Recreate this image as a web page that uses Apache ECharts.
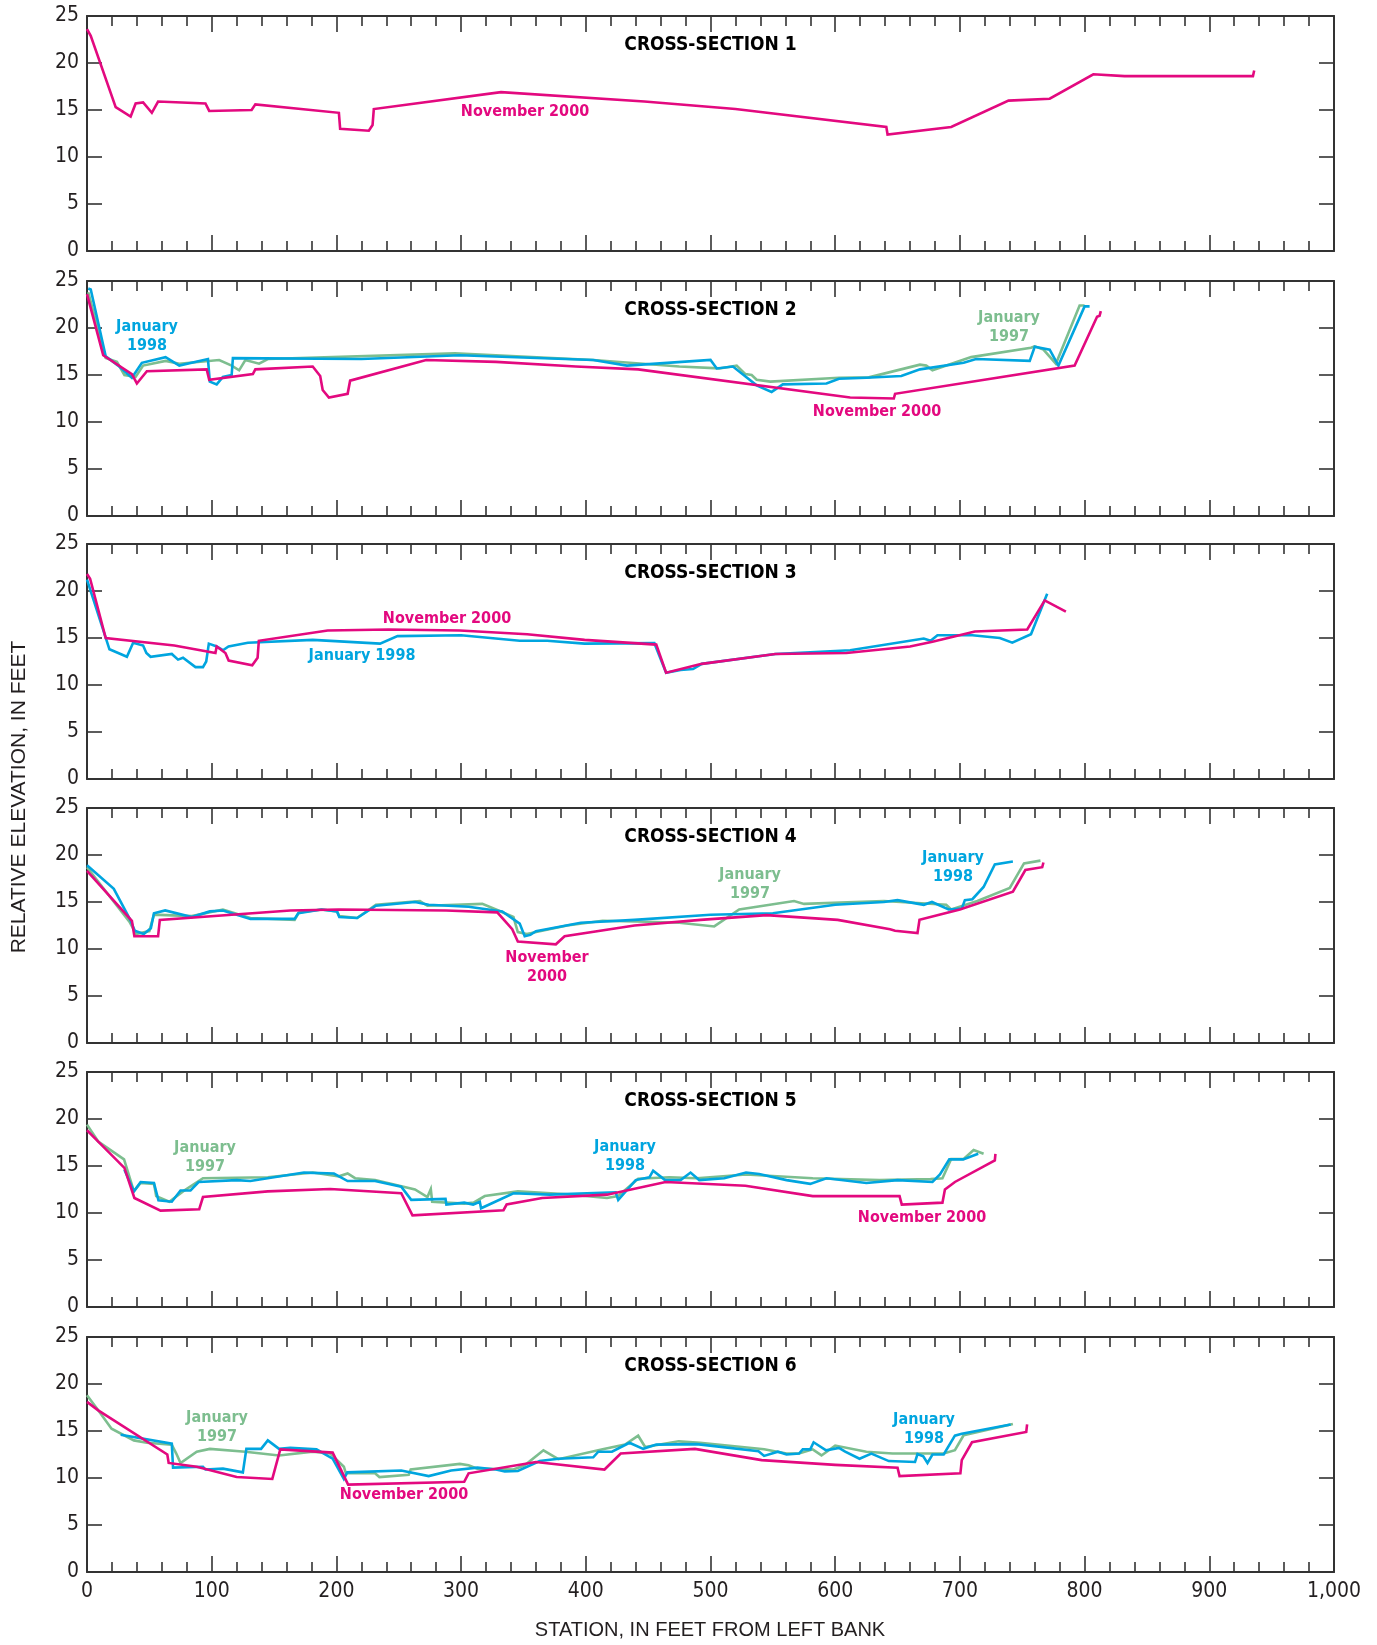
<!DOCTYPE html>
<html><head><meta charset="utf-8">
<script src="https://cdn.jsdelivr.net/npm/echarts@6/dist/echarts.min.js"></script>
<style>html,body{margin:0;padding:0;background:#fff}#c{width:1377px;height:1645px}</style>
</head><body><div id="c"></div><script>
// ---------- DATA: [station (ft from left bank), relative elevation (ft)] ----------
const xTicks = [0,100,200,300,400,500,600,700,800,900,1000];
const yTicks = [0,5,10,15,20,25];
const sectionTitles = ['CROSS-SECTION 1','CROSS-SECTION 2','CROSS-SECTION 3','CROSS-SECTION 4','CROSS-SECTION 5','CROSS-SECTION 6'];

const cs1Nov2000 = [[0,23.6],[3,22.9],[23,15.3],[35,14.3],[39,15.7],[45,15.8],[52,14.7],[57,15.9],[95,15.7],[98,14.9],[132,15.0],[135,15.6],[202,14.7],[203,13.0],[226,12.8],[229,13.4],[230,15.1],[332,16.9],[447,15.9],[520,15.1],[641,13.2],[642,12.4],[693,13.2],[739,16.0],[772,16.2],[807,18.8],[832,18.6],[935,18.6],[936,19.2]];

const cs2Nov2000 = [[0,23.6],[13,17.1],[36,15.1],[40,14.1],[48,15.4],[96,15.6],[98,14.5],[133,15.1],[135,15.6],[181,15.9],[187,14.9],[189,13.4],[194,12.6],[209,13.0],[211,14.4],[272,16.6],[328,16.4],[392,15.9],[442,15.6],[612,12.6],[647,12.5],[648,13.0],[792,16.0],[810,21.2],[812,21.3],[813,21.8]];
const cs2Jan1998 = [[1,24.2],[3,24.1],[15,17.0],[25,16.0],[36,14.7],[44,16.3],[63,16.9],[74,16.0],[97,16.7],[98.5,14.3],[104,14.0],[109,14.8],[116,15.0],[117,16.8],[220,16.7],[299,17.1],[406,16.6],[433,16.0],[500,16.6],[505,15.7],[518,15.9],[537,13.9],[549,13.2],[558,14.0],[593,14.1],[603,14.6],[625,14.7],[653,14.9],[668,15.6],[703,16.3],[713,16.7],[756,16.5],[760,18.0],[772,17.7],[779,16.0],[800,22.3],[804,22.3]];
const cs2Jan1997 = [[1,23.8],[15,16.8],[24,16.4],[30,15.0],[39,14.8],[45,16.0],[63,16.5],[74,16.2],[106,16.6],[116,16.0],[122,15.5],[127,16.6],[138,16.2],[145,16.7],[295,17.3],[406,16.6],[475,15.9],[507,15.7],[521,16.0],[528,15.1],[533,15.0],[537,14.5],[548,14.3],[603,14.7],[627,14.75],[668,16.1],[673,16.0],[678,15.5],[709,16.9],[757,17.9],[760,18.05],[767,17.7],[777,16.2],[796,22.4],[800,22.4]];

const cs3Nov2000 = [[0,21.8],[2.5,21.3],[15,15.0],[70,14.2],[103,13.4],[104,14.1],[111,13.4],[113.6,12.6],[132.5,12.1],[136.8,12.9],[137.8,14.7],[193,15.8],[242,15.9],[299,15.8],[353,15.4],[399,14.8],[456.5,14.3],[464.4,11.3],[493,12.25],[552,13.3],[609,13.4],[660,14.1],[678,14.6],[712,15.7],[754,15.9],[768,19.0],[785,17.8]];
const cs3Jan1998 = [[0,21.2],[18,13.8],[32,13.0],[37,14.5],[45,14.2],[47.6,13.4],[51,13.0],[68,13.3],[73,12.7],[77,12.9],[87,11.9],[93,11.9],[95.6,12.5],[97.7,14.4],[104,14.1],[109,13.7],[113.5,14.1],[129,14.5],[181,14.8],[235,14.4],[249,15.2],[300,15.3],[347,14.7],[369,14.7],[399,14.4],[455,14.45],[464.4,11.3],[476,11.6],[486,11.7],[493,12.25],[552,13.3],[612,13.7],[671,14.95],[676.5,14.7],[682,15.3],[710,15.3],[732,15.0],[742,14.5],[757,15.4],[770,19.7]];

const cs4Nov2000 = [[0,18.3],[36,13.0],[38,11.35],[57,11.35],[58.4,13.1],[163,14.1],[202,14.2],[288,14.1],[329,13.9],[341,12.1],[345.5,10.8],[376,10.5],[383,11.35],[439,12.5],[492,13.1],[545,13.6],[602,13.1],[644,12.1],[648,11.95],[666,11.7],[667.6,13.1],[700,14.2],[742.5,16.1],[752.5,18.4],[766,18.7],[767,19.2]];
const cs4Jan1998 = [[0,18.9],[21.5,16.4],[34.7,13.1],[38.3,11.95],[45.5,11.6],[51.2,12.2],[53.7,13.8],[62.7,14.1],[84,13.4],[98.5,14.0],[109,14.1],[131,13.2],[166.5,13.2],[169.4,13.8],[188,14.2],[200.5,14.0],[202.3,13.4],[216.6,13.3],[231.7,14.6],[263,15.0],[274,14.7],[306,14.5],[333,14.0],[347,12.7],[351,11.35],[355.5,11.5],[360,11.9],[396,12.8],[439,13.1],[500,13.65],[550,13.8],[600,14.7],[639,15.0],[650,15.2],[671,14.7],[677.6,15.0],[691,14.2],[701.5,14.3],[704,15.2],[710,15.3],[719,16.6],[728,19.0],[742.5,19.3]];
const cs4Jan1997 = [[0,18.7],[34,12.9],[39.4,11.6],[50,11.9],[53.7,13.65],[84,13.5],[109,14.2],[131,13.3],[166.5,13.1],[170,13.9],[188,14.2],[200.5,14.0],[202.3,13.5],[216.6,13.3],[231.7,14.7],[267,15.1],[273,14.6],[317,14.8],[328,14.2],[342,13.4],[345.5,11.8],[352.7,11.6],[385,12.5],[413.5,13.0],[449,12.9],[475,12.8],[503,12.4],[523,14.2],[567,15.1],[575,14.8],[639,15.1],[689,14.7],[693,14.2],[714,15.1],[740,16.5],[751.4,19.1],[764.6,19.4]];

const cs5Nov2000 = [[0,18.8],[9,17.6],[30,14.8],[38,11.6],[59,10.25],[90,10.4],[93,11.7],[145,12.3],[195,12.55],[252,12.1],[261,9.75],[334,10.3],[336.5,10.9],[365,11.6],[417,11.95],[464,13.3],[528,12.9],[582,11.8],[651.6,11.8],[653.4,10.9],[686,11.1],[688,12.5],[696,13.3],[728,15.6],[728.5,16.3]];
const cs5Jan1998 = [[30,14.6],[37.6,12.3],[43,13.3],[53.7,13.2],[57.3,11.35],[68,11.2],[75,12.4],[83,12.4],[89.5,13.3],[120,13.5],[131,13.4],[174,14.3],[198,14.2],[209,13.4],[231,13.4],[252,12.8],[260,11.4],[287.5,11.5],[288.2,10.9],[302.5,11.1],[309.7,10.9],[315,11.2],[316,10.5],[342,12.1],[371,11.95],[424,12.2],[426,11.4],[440,13.5],[451,13.8],[454,14.5],[463.6,13.5],[476,13.5],[484,14.3],[491,13.5],[511,13.7],[528.5,14.3],[539,14.15],[561,13.5],[580,13.1],[593,13.7],[625,13.2],[650,13.5],[678,13.3],[684,14.1],[691.5,15.7],[702.6,15.7],[714.7,16.3]];
const cs5Jan1997 = [[0,19.4],[9,17.6],[29.7,15.7],[37.6,12.3],[43,13.2],[53.7,13.1],[55.5,11.8],[66,11.2],[77,12.3],[93,13.7],[145,13.8],[181,14.3],[202,13.9],[209,14.2],[215,13.7],[231,13.5],[263,12.5],[273,11.7],[275.7,12.55],[276.8,11.2],[302.5,11.0],[310,11.1],[319,11.8],[345.5,12.3],[388.5,11.95],[417,11.6],[426,11.8],[442,13.65],[467,13.8],[489,13.7],[528.5,14.1],[582,13.7],[635.5,13.5],[676.5,13.6],[686,13.7],[693,15.75],[703,15.75],[711,16.7],[719,16.3]];

const cs6Nov2000 = [[0,18.1],[9,17.2],[64.4,12.5],[65.5,11.6],[88,11.2],[120,10.1],[148.6,9.9],[155,13.05],[197,12.7],[209.4,9.3],[302.5,9.6],[306,10.5],[360,11.7],[415,10.9],[428,12.6],[487.5,13.1],[541,11.9],[600,11.4],[650,11.1],[651.6,10.2],[700.4,10.5],[701.5,11.9],[709.7,13.8],[753.2,14.9],[753.9,15.7]];
const cs6Jan1998 = [[27,14.6],[68,13.65],[69,11.1],[93,11.2],[95,10.9],[109,11.0],[125,10.6],[127.8,13.1],[139.6,13.1],[145,14.0],[154,13.1],[163,13.2],[184,13.05],[197,12.05],[206,9.9],[208.7,10.6],[252,10.8],[274,10.2],[292,10.8],[313,11.1],[328,10.9],[335,10.7],[345.5,10.75],[363,11.8],[378,12.05],[406,12.2],[410,12.8],[421,12.8],[435,13.75],[446,13.1],[456.5,13.55],[489,13.6],[538.5,12.85],[543,12.35],[554,12.8],[561,12.5],[571,12.6],[574,13.05],[580,13.05],[582.7,13.8],[592.7,12.95],[603,13.2],[608,12.8],[619.5,12.05],[629,12.6],[643,11.8],[664,11.7],[666,12.55],[670.6,12.3],[674,11.6],[678,12.5],[687,12.5],[696,14.5],[701.5,14.7],[740.7,15.7]];
const cs6Jan1997 = [[0,18.8],[9,17.2],[19.7,15.25],[37.6,14.0],[48,13.75],[68,13.55],[71.6,12.6],[75,11.6],[88,12.8],[98.5,13.1],[127,12.8],[154,12.4],[181,12.8],[195,12.6],[206,11.2],[207.6,10.5],[231,10.5],[234.5,10.1],[258,10.35],[259.6,10.9],[299,11.5],[306,11.35],[313,11.0],[342,10.9],[351,11.35],[366,12.95],[378,12.0],[413.5,13.05],[431.5,13.55],[442,14.5],[447.6,13.3],[474.5,13.9],[491.6,13.75],[543,13.05],[561,12.6],[571,12.6],[582,13.05],[589,12.4],[600,13.45],[625,12.8],[646,12.6],[687,12.6],[696,12.95],[703,14.55],[742.5,15.75]];

// ---------- STYLE ----------
const C_NOV = '#E3097F', C_J98 = '#00A5DF', C_J97 = '#7DBE8F', INK = '#231F20', AXC = '#333333';
const COND = "'Liberation Sans Narrow','DejaVu Sans Condensed','Arial Narrow',sans-serif";
const REG = "'Liberation Sans','DejaVu Sans',sans-serif";
const panelTops = [16, 281, 544, 808, 1072, 1337];
const GL = 87, GW = 1247, GH = 235;

const panels = [
  [['Nov', cs1Nov2000]],
  [['J97', cs2Jan1997], ['J98', cs2Jan1998], ['Nov', cs2Nov2000]],
  [['J98', cs3Jan1998], ['Nov', cs3Nov2000]],
  [['J97', cs4Jan1997], ['J98', cs4Jan1998], ['Nov', cs4Nov2000]],
  [['J97', cs5Jan1997], ['J98', cs5Jan1998], ['Nov', cs5Nov2000]],
  [['J97', cs6Jan1997], ['J98', cs6Jan1998], ['Nov', cs6Nov2000]]
];
const colorOf = {Nov: C_NOV, J98: C_J98, J97: C_J97};

const grid = [], xAxis = [], yAxis = [], series = [];
const lineW = 1.6;
panelTops.forEach((t, i) => {
  grid.push({left: GL, top: t, width: GW, height: GH, outerBoundsMode: 'none', containLabel: false});
  ['bottom', 'top'].forEach(pos => {
    xAxis.push({
      gridIndex: i, type: 'value', position: pos, min: xTicks[0], max: xTicks[xTicks.length - 1],
      interval: xTicks[1] - xTicks[0],
      axisLine: {show: true, onZero: false, lineStyle: {color: AXC, width: 2}},
      axisTick: {show: true, inside: true, length: 16, lineStyle: {color: AXC, width: lineW}},
      minorTick: {show: true, splitNumber: 5, length: 10, lineStyle: {color: AXC, width: lineW}},
      splitLine: {show: false}, minorSplitLine: {show: false},
      axisLabel: {show: pos === 'bottom' && i === 5, margin: 9, fontSize: 21, fontFamily: COND, color: INK,
        formatter: v => v >= 1000 ? v.toLocaleString('en-US') : String(v), showMinLabel: true, showMaxLabel: true, hideOverlap: false}
    });
  });
  ['left', 'right'].forEach(pos => {
    yAxis.push({
      gridIndex: i, type: 'value', position: pos, min: yTicks[0], max: yTicks[yTicks.length - 1],
      interval: yTicks[1] - yTicks[0],
      axisLine: {show: true, onZero: false, lineStyle: {color: AXC, width: 2}},
      axisTick: {show: true, inside: true, length: 15, lineStyle: {color: AXC, width: lineW}},
      splitLine: {show: false},
      axisLabel: {show: pos === 'left', margin: 8, fontSize: 21, fontFamily: COND, color: INK,
        showMinLabel: true, showMaxLabel: true, hideOverlap: false}
    });
  });
  panels[i].forEach(([k, d], j) => {
    series.push({
      type: 'line', xAxisIndex: i * 2, yAxisIndex: i * 2, data: d, showSymbol: false, symbol: 'none',
      lineStyle: {color: colorOf[k], width: 2.6, join: 'miter'}, itemStyle: {color: colorOf[k]},
      z: 3 + j, silent: true, clip: true
    });
  });
});

function txt(x, y, text, color, font, extra) {
  return Object.assign({type: 'text', x: x, y: y, silent: true, z: 100,
    style: Object.assign({text: text, fill: color, align: 'center', verticalAlign: 'middle',
      textAlign: 'center', textVerticalAlign: 'middle', lineHeight: 19}, font)}, extra || {});
}
const labFont = {fontFamily: COND, fontWeight: 'bold', fontSize: 16};
const titleFont = {fontFamily: COND, fontWeight: 'bold', fontSize: 19};
const graphic = [];
panelTops.forEach((t, i) => graphic.push(txt(GL + GW / 2, t + 29, sectionTitles[i], '#000', titleFont)));
const labels = [
  [525, 112, 'November 2000', C_NOV],
  [147, 336.5, 'January\n1998', C_J98], [1009, 327.5, 'January\n1997', C_J97], [877, 412, 'November 2000', C_NOV],
  [447, 619, 'November 2000', C_NOV], [362, 656, 'January 1998', C_J98],
  [547, 967, 'November\n2000', C_NOV], [750, 884, 'January\n1997', C_J97], [953, 867.5, 'January\n1998', C_J98],
  [205, 1157.5, 'January\n1997', C_J97], [625, 1156.5, 'January\n1998', C_J98], [922, 1218, 'November 2000', C_NOV],
  [217, 1427.5, 'January\n1997', C_J97], [404, 1495, 'November 2000', C_NOV], [924, 1429.5, 'January\n1998', C_J98]
];
labels.forEach(([x, y, s, c]) => graphic.push(txt(x, y, s, c, labFont)));
graphic.push(txt(19, 797, 'RELATIVE ELEVATION, IN FEET', INK, {fontFamily: REG, fontSize: 21}, {rotation: Math.PI / 2}));
graphic.push(txt(710, 1630, 'STATION, IN FEET FROM LEFT BANK', INK, {fontFamily: REG, fontSize: 20}));

const chart = echarts.init(document.getElementById('c'), null, {renderer: 'canvas'});
chart.setOption({animation: false, backgroundColor: '#fff', grid, xAxis, yAxis, series, graphic});
</script></body></html>
